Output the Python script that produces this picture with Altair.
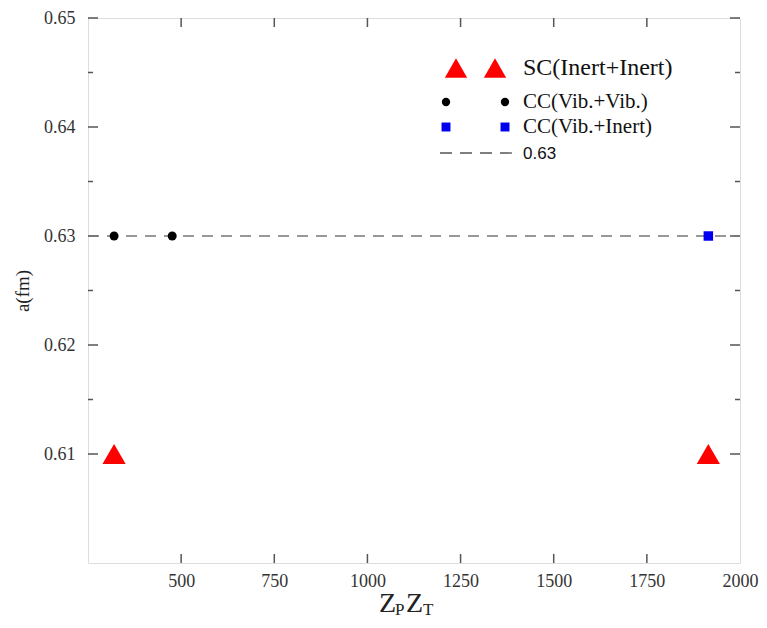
import altair as alt
import pandas as pd

# ---- data ----
sc_x = [320, 1915]
sc_y = [0.61, 0.61]
vib_x = [320, 476]
vib_y = [0.63, 0.63]
vi_x = [1915]
vi_y = [0.63]
ref_value = [0.63]

x_major = [500, 750, 1000, 1250, 1500, 1750, 2000]
y_major = [0.61, 0.62, 0.63, 0.64, 0.65]
y_minor = [0.615, 0.625, 0.635, 0.645]

legend_labels = ["SC(Inert+Inert)", "CC(Vib.+Vib.)", "CC(Vib.+Inert)", "0.63"]

W, H = 652, 545
SERIF = "Liberation Serif"
FRAME = "#555555"

xs = alt.Scale(domain=[250, 2000], nice=False, zero=False)
ys = alt.Scale(domain=[0.60, 0.65], nice=False, zero=False)

x_axis = alt.Axis(values=x_major, format="d", labelFont=SERIF, labelFontSize=18,
                  labelColor="#333333", ticks=False, domain=False, grid=False,
                  labelPadding=9, labelFlush=False, title=None)
y_axis = alt.Axis(values=y_major, format=".2f", labelFont=SERIF, labelFontSize=18,
                  labelColor="#333333", ticks=False, domain=False, grid=False,
                  labelPadding=13, labelFlush=False, title="a(fm)",
                  titleFont=SERIF, titleFontSize=19, titleFontWeight="normal",
                  titleColor="#222222", titlePadding=11)


def X(f):
    return alt.X(f, type="quantitative", scale=xs, axis=x_axis)


def Y(f):
    return alt.Y(f, type="quantitative", scale=ys, axis=y_axis)


sc_df = pd.DataFrame({"x": sc_x, "y": sc_y})
vib_df = pd.DataFrame({"x": vib_x, "y": vib_y})
vi_df = pd.DataFrame({"x": vi_x, "y": vi_y})
ref_df = pd.DataFrame({"y": ref_value})

ref_line = alt.Chart(ref_df).mark_rule(color="#777777", strokeWidth=1.5, strokeDash=[11, 8]).encode(
    y=Y("y"), x=alt.value(0), x2=alt.value(W))

sc = alt.Chart(sc_df).mark_point(shape="triangle-up", filled=True, color="#ff0000",
                                 size=540, opacity=1).encode(x=X("x"), y=Y("y"))
vib = alt.Chart(vib_df).mark_point(shape="circle", filled=True, color="#000000",
                                   size=80, opacity=1).encode(x=X("x"), y=Y("y"))
vi = alt.Chart(vi_df).mark_point(shape="square", filled=True, color="#0000ee",
                                 size=90, opacity=1).encode(x=X("x"), y=Y("y"))

# ---- inward ticks on all four sides ----
ymaj_df = pd.DataFrame({"v": y_major})
ymin_df = pd.DataFrame({"v": y_minor})
xmaj_df = pd.DataFrame({"v": x_major[:-1]})
tick_style = dict(color=FRAME, strokeWidth=1.5)
ticks = [
    alt.Chart(ymaj_df).mark_rule(**tick_style).encode(y=Y("v"), x=alt.value(0), x2=alt.value(10)),
    alt.Chart(ymin_df).mark_rule(**tick_style).encode(y=Y("v"), x=alt.value(0), x2=alt.value(5)),
    alt.Chart(ymaj_df).mark_rule(**tick_style).encode(y=Y("v"), x=alt.value(W), x2=alt.value(W - 10)),
    alt.Chart(ymin_df).mark_rule(**tick_style).encode(y=Y("v"), x=alt.value(W), x2=alt.value(W - 5)),
    alt.Chart(xmaj_df).mark_rule(**tick_style).encode(x=X("v"), y=alt.value(H), y2=alt.value(H - 9)),
    alt.Chart(xmaj_df).mark_rule(**tick_style).encode(x=X("v"), y=alt.value(0), y2=alt.value(9)),
]

# ---- custom legend (two symbols per entry, as in the reference) ----
leg_sym = pd.DataFrame({
    "px": [368, 407, 358, 417, 358, 417],
    "py": [50, 50, 84, 84, 109, 109],
    "shape": ["triangle-up", "triangle-up", "circle", "circle", "square", "square"],
    "color": ["#ff0000", "#ff0000", "#000000", "#000000", "#0000ee", "#0000ee"],
    "size": [500, 500, 70, 70, 80, 80],
})
legend_symbols = alt.Chart(leg_sym).mark_point(filled=True, opacity=1).encode(
    x=alt.X("px:Q", scale=None), y=alt.Y("py:Q", scale=None),
    shape=alt.Shape("shape:N", scale=None),
    color=alt.Color("color:N", scale=None),
    size=alt.Size("size:Q", scale=None))

legend_line = alt.Chart(ref_df).mark_rule(color="#555555", strokeWidth=1.3, strokeDash=[12, 8]).encode(
    x=alt.value(352), x2=alt.value(425), y=alt.value(135))

leg_txt = pd.DataFrame({"label": legend_labels[:3], "py": [50, 84, 109],
                        "fs": [24, 21, 21]})
legend_text = alt.Chart(leg_txt).mark_text(font=SERIF, align="left", baseline="middle",
                                          color="#111111").encode(
    x=alt.value(435), y=alt.Y("py:Q", scale=None), text="label:N",
    size=alt.Size("fs:Q", scale=None))
legend_text2 = alt.Chart(pd.DataFrame({"label": [legend_labels[3]]})).mark_text(
    font="Liberation Sans", fontSize=17, align="left", baseline="middle", color="#111111").encode(
    x=alt.value(435), y=alt.value(136), text="label:N")

# ---- x title Z_P Z_T ----
title_df = pd.DataFrame({"t": ["Z", "P", "Z", "T"], "px": [291, 307, 318, 335],
                         "py": [594, 597, 594, 597], "fs": [28, 17, 28, 17]})
x_title = alt.Chart(title_df).mark_text(font=SERIF, align="left", baseline="alphabetic",
                                       color="#222222").encode(
    x=alt.X("px:Q", scale=None), y=alt.Y("py:Q", scale=None), text="t:N",
    size=alt.Size("fs:Q", scale=None))

chart = alt.layer(
    sc, *ticks, ref_line, vib, vi,
    legend_symbols, legend_line, legend_text, legend_text2, x_title
).properties(
    width=W, height=H,
    autosize=alt.AutoSizeParams(type="none"),
    padding={"left": 80, "top": 10, "right": 19, "bottom": 57},
).configure_view(stroke=FRAME, strokeWidth=1.5).configure(background="white").configure_axis(
    labelFont=SERIF, titleFont=SERIF)

chart.save("out.html", embed_options={"renderer": "svg", "actions": False})
